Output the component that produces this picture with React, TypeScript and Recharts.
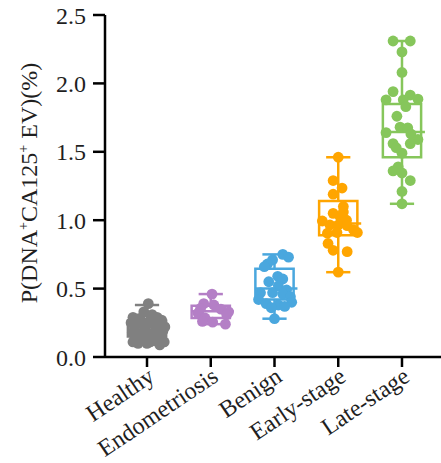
import React from 'react';
import { ComposedChart, Scatter, XAxis, YAxis, ReferenceArea, ReferenceLine } from 'recharts';

const categories = ['Healthy', 'Endometriosis', 'Benign', 'Early-stage', 'Late-stage'];
const colors = ['#808080', '#b47fc6', '#4aa7de', '#ffa500', '#86c65b'];
const yTicks = [0, 0.5, 1, 1.5, 2, 2.5];

const healthyValues = [0.39, 0.33, 0.31, 0.29, 0.28, 0.29, 0.27, 0.25, 0.26, 0.25, 0.24, 0.22, 0.22, 0.215, 0.2, 0.19, 0.18, 0.17, 0.165, 0.16, 0.14, 0.14, 0.13, 0.14, 0.11, 0.115, 0.11, 0.12, 0.1, 0.1, 0.088, 0.11];
const healthyJitter = [0.02, -0.05, 0.08, -0.22, -0.13, 0.16, 0.23, -0.25, -0.08, 0.05, 0.19, 0.28, -0.19, -0.03, 0.13, 0.25, -0.23, -0.11, 0.03, 0.17, -0.19, -0.05, 0.09, 0.23, -0.22, -0.09, 0.05, 0.16, -0.14, 0, 0.2, 0.27];

const endoValues = [0.46, 0.39, 0.38, 0.355, 0.35, 0.33, 0.32, 0.31, 0.285, 0.26, 0.255, 0.24];
const endoJitter = [0.02, -0.11, 0.05, -0.16, 0.16, 0.28, -0.2, 0.25, -0.09, -0.13, 0.03, 0.23];

const benignValues = [0.75, 0.73, 0.71, 0.68, 0.66, 0.59, 0.57, 0.55, 0.52, 0.49, 0.47, 0.47, 0.46, 0.44, 0.42, 0.4, 0.39, 0.38, 0.37, 0.36, 0.28];
const benignJitter = [0.13, 0.22, -0.03, -0.11, -0.16, 0.05, 0.13, -0.09, 0.06, 0.19, -0.22, -0.03, 0.13, 0.25, -0.25, 0.27, -0.13, 0.06, 0.16, -0.05, 0];

const earlyValues = [1.46, 1.29, 1.235, 1.19, 1.1, 1.06, 1.05, 1.025, 1.0, 0.994, 0.965, 0.965, 0.96, 0.93, 0.91, 0.905, 0.91, 0.83, 0.78, 0.77, 0.62];
const earlyJitter = [0, -0.08, 0.06, -0.08, 0.08, 0.08, -0.08, 0.03, 0.13, -0.25, -0.13, 0, 0.14, 0.24, -0.02, -0.17, 0.3, -0.16, -0.08, 0.14, 0];

const lateValues = [2.31, 2.31, 2.23, 2.08, 1.94, 1.915, 1.88, 1.88, 1.885, 1.83, 1.76, 1.68, 1.675, 1.64, 1.63, 1.59, 1.56, 1.56, 1.49, 1.53, 1.39, 1.36, 1.345, 1.29, 1.21, 1.12];
const lateJitter = [-0.14, 0.13, 0, 0, -0.14, 0.13, -0.25, 0.02, 0.25, 0.06, -0.08, -0.03, 0.09, -0.25, 0.14, 0.25, -0.14, 0.13, 0, -0.09, -0.06, -0.14, 0, 0.13, 0, 0];

const whiskerLow = [0.09, 0.24, 0.28, 0.62, 1.12];
const q1 = [0.15, 0.285, 0.42, 0.89, 1.46];
const medians = [0.225, 0.335, 0.5, 0.975, 1.645];
const q3 = [0.265, 0.375, 0.645, 1.14, 1.85];
const whiskerHigh = [0.38, 0.46, 0.75, 1.46, 2.31];

const groupValues = [healthyValues, endoValues, benignValues, earlyValues, lateValues];
const groupJitter = [healthyJitter, endoJitter, benignJitter, earlyJitter, lateJitter];

const FONT = '"Liberation Serif", "Times New Roman", serif';
const TEXT = '#1f1f1f';
const BOX_HALF = 0.3;
const MED_L = 0.3;
const MED_R = 0.36;
const CAP_HALF = 0.19;

const XTick = (props: any) => {
  const { x, y, payload } = props;
  return (
    <g transform={`translate(${x},${y})`}>
      <text x={0} y={0} textAnchor="end" transform="translate(9,11) rotate(-34)" fontFamily={FONT} fontSize={24} fill={TEXT}>
        {categories[payload.value]}
      </text>
    </g>
  );
};

const YLabel = () => (
  <text transform="translate(37,183) rotate(-90)" textAnchor="middle" fontFamily={FONT} fontSize={24} fill={TEXT}>
    P(DNA<tspan dy={-9} fontSize={14}>+</tspan><tspan dy={9}>CA125</tspan><tspan dy={-9} fontSize={14}>+</tspan><tspan dy={9}> EV)(%)</tspan>
  </text>
);

export default function App() {
  return (
    <div style={{ position: 'absolute', left: 0, top: 0 }}>
      <ComposedChart width={441} height={463} margin={{ top: 15, right: 0, bottom: 0, left: 0 }}>
        <XAxis
          type="number"
          dataKey="x"
          domain={[-0.659, 4.612]}
          ticks={[0, 1, 2, 3, 4]}
          height={106}
          tick={<XTick />}
          tickSize={10}
          tickMargin={2}
          axisLine={{ stroke: '#000', strokeWidth: 2.5 }}
          tickLine={{ stroke: '#000', strokeWidth: 2.5 }}
          allowDataOverflow
        />
        <YAxis
          type="number"
          dataKey="y"
          domain={[0, 2.5]}
          ticks={yTicks}
          width={105}
          tickSize={12}
          tickMargin={7}
          tickFormatter={(v: number) => v.toFixed(1)}
          tick={{ fontFamily: FONT, fontSize: 24, fill: TEXT }}
          axisLine={{ stroke: '#000', strokeWidth: 2.5 }}
          tickLine={{ stroke: '#000', strokeWidth: 2.5 }}
          label={<YLabel />}
        />
        {categories.map((c, i) => (
          <ReferenceArea key={`box-${c}`} x1={i - BOX_HALF} x2={i + BOX_HALF} y1={q1[i]} y2={q3[i]} fill="none" fillOpacity={0} stroke={colors[i]} strokeWidth={2.5} ifOverflow="visible" />
        ))}
        {categories.map((c, i) => (
          <ReferenceLine key={`med-${c}`} segment={[{ x: i - MED_L, y: medians[i] }, { x: i + MED_R, y: medians[i] }]} stroke={colors[i]} strokeWidth={2.5} ifOverflow="visible" />
        ))}
        {categories.map((c, i) => (
          <ReferenceLine key={`wl-${c}`} segment={[{ x: i, y: whiskerLow[i] }, { x: i, y: q1[i] }]} stroke={colors[i]} strokeWidth={2.5} ifOverflow="visible" />
        ))}
        {categories.map((c, i) => (
          <ReferenceLine key={`wh-${c}`} segment={[{ x: i, y: q3[i] }, { x: i, y: whiskerHigh[i] }]} stroke={colors[i]} strokeWidth={2.5} ifOverflow="visible" />
        ))}
        {categories.map((c, i) => (
          <ReferenceLine key={`cl-${c}`} segment={[{ x: i - CAP_HALF, y: whiskerLow[i] }, { x: i + CAP_HALF, y: whiskerLow[i] }]} stroke={colors[i]} strokeWidth={2.5} ifOverflow="visible" />
        ))}
        {categories.map((c, i) => (
          <ReferenceLine key={`ch-${c}`} segment={[{ x: i - CAP_HALF, y: whiskerHigh[i] }, { x: i + CAP_HALF, y: whiskerHigh[i] }]} stroke={colors[i]} strokeWidth={2.5} ifOverflow="visible" />
        ))}
        {categories.map((c, i) => (
          <Scatter
            key={`pts-${c}`}
            name={c}
            data={groupValues[i].map((v, j) => ({ x: i + groupJitter[i][j], y: v }))}
            fill={colors[i]}
            isAnimationActive={false}
            shape={(p: any) => <circle cx={p.cx} cy={p.cy} r={5.4} fill={colors[i]} />}
          />
        ))}
      </ComposedChart>
    </div>
  );
}
